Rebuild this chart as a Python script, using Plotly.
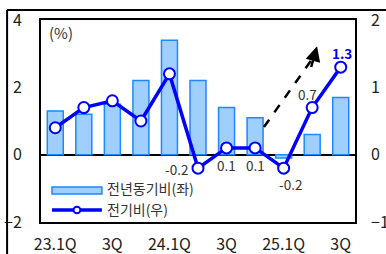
import plotly.graph_objects as go

categories = ["23.1Q", "23.2Q", "23.3Q", "23.4Q", "24.1Q", "24.2Q", "24.3Q", "24.4Q", "25.1Q", "25.2Q", "25.3Q"]
yoy_values = [1.3, 1.2, 1.5, 2.2, 3.4, 2.2, 1.4, 1.1, -0.1, 0.6, 1.7]
qoq_values = [0.4, 0.7, 0.8, 0.5, 1.2, -0.2, 0.1, 0.1, -0.2, 0.7, 1.3]
tick_labels = ["23.1Q", "", "3Q", "", "24.1Q", "", "3Q", "", "25.1Q", "", "3Q"]
yoy_name = "전년동기비(좌)"
qoq_name = "전기비(우)"

x = list(range(len(categories)))
FONT = "Noto Sans CJK KR, Noto Sans, sans-serif"
TXT = "#333333"

fig = go.Figure()
fig.add_trace(go.Bar(
    x=x, y=yoy_values, name=yoy_name, width=0.56,
    marker=dict(color="#9FCFFF", line=dict(color="#1E88FF", width=1.5)),
    yaxis="y", showlegend=False,
))
fig.add_trace(go.Scatter(
    x=x, y=qoq_values, name=qoq_name, mode="lines+markers",
    line=dict(color="#0000FF", width=3.5),
    marker=dict(size=11, color="white", line=dict(color="#0000FF", width=2)),
    yaxis="y2", showlegend=False, cliponaxis=False,
))

# data labels for selected points
label_specs = {5: (-22, -1), 6: (0, -17), 7: (0, -17), 8: (7, -16), 9: (-5, 14), 10: (1, 14)}
anns = []
for i, (dx, dy) in label_specs.items():
    v = qoq_values[i]
    txt = f"{v:.1f}"
    bold = i == len(qoq_values) - 1
    anns.append(dict(
        x=x[i], y=v, xref="x", yref="y2", text=f"<b>{txt}</b>" if bold else txt,
        showarrow=False, xshift=dx, yshift=dy,
        font=dict(family=FONT, size=13.5, color="#0000FF" if bold else TXT),
    ))

anns.append(dict(x=0.02, y=1.0, xref="paper", yref="paper", text="(%)", showarrow=False,
                 xanchor="left", yanchor="top", font=dict(family=FONT, size=15, color=TXT)))

# arrowhead
anns.append(dict(x=9.17, y=1.61, xref="x", yref="y2", ax=8.95, ay=1.28, axref="x", ayref="y2",
                 text="", showarrow=True, arrowhead=2, arrowsize=1.2, arrowwidth=2.5, arrowcolor="black"))

# legend texts
anns.append(dict(x=0.205, y=0.156, xref="paper", yref="paper", text=yoy_name, showarrow=False,
                 xanchor="left", yshift=-10, font=dict(family=FONT, size=14, color=TXT)))
anns.append(dict(x=0.205, y=0.059, xref="paper", yref="paper", text=qoq_name, showarrow=False,
                 xanchor="left", yshift=-11, font=dict(family=FONT, size=14, color=TXT)))

shapes = [
    # dashed arrow shaft
    dict(type="line", xref="x", yref="y2", x0=7.31, y0=0.41, x1=9.05, y1=1.45,
         line=dict(color="black", width=2.5, dash="dash")),
    # outer frame
    dict(type="line", xref="paper", yref="paper", x0=-0.108, y0=1.0495, x1=1.12, y1=1.0495,
         line=dict(color="black", width=2)),
    dict(type="line", xref="paper", yref="paper", x0=-0.108, y0=1.0495, x1=-0.108, y1=-0.2,
         line=dict(color="black", width=2)),
    # legend swatches
    dict(type="rect", xref="paper", yref="paper", x0=0.035, y0=0.139, x1=0.194, y1=0.173,
         fillcolor="#9FCFFF", line=dict(color="#1E88FF", width=1.5)),
    dict(type="line", xref="paper", yref="paper", x0=0.035, y0=0.059, x1=0.194, y1=0.059,
         line=dict(color="#0000FF", width=3.5)),
    dict(type="circle", xref="paper", yref="paper", x0=0.1035, y0=0.043, x1=0.1255, y1=0.076,
         fillcolor="white", line=dict(color="#0000FF", width=2)),
]

tickfont = dict(family=FONT, size=16, color="#222222")
fig.update_layout(
    width=386, height=254,
    margin=dict(l=41, r=31, t=20, b=32, autoexpand=False),
    paper_bgcolor="white", plot_bgcolor="white",
    font=dict(family=FONT, size=13, color="#222222"),
    xaxis=dict(
        range=[-0.5, len(categories) - 0.5], tickvals=x, ticktext=tick_labels, automargin=False,
        showgrid=False, zeroline=False, showline=True, linecolor="black", linewidth=2, mirror=True,
        ticks="", ticklabelstandoff=7, tickfont=tickfont,
    ),
    yaxis=dict(
        range=[-2, 4], dtick=2, showgrid=False, zeroline=True, zerolinecolor="black", zerolinewidth=1.5,
        showline=True, linecolor="black", linewidth=2, mirror=True, automargin=False,
        ticks="", ticklabelstandoff=14, tickfont=tickfont,
    ),
    yaxis2=dict(
        range=[-1, 2], dtick=1, overlaying="y", side="right", showgrid=False, zeroline=False,
        automargin=False, ticks="", ticklabelstandoff=15, tickfont=tickfont,
    ),
    annotations=anns, shapes=shapes,
)

fig.write_html("out.html", config={"displayModeBar": False},
               post_script="document.body.style.margin='0px';document.body.style.overflow='hidden';")
